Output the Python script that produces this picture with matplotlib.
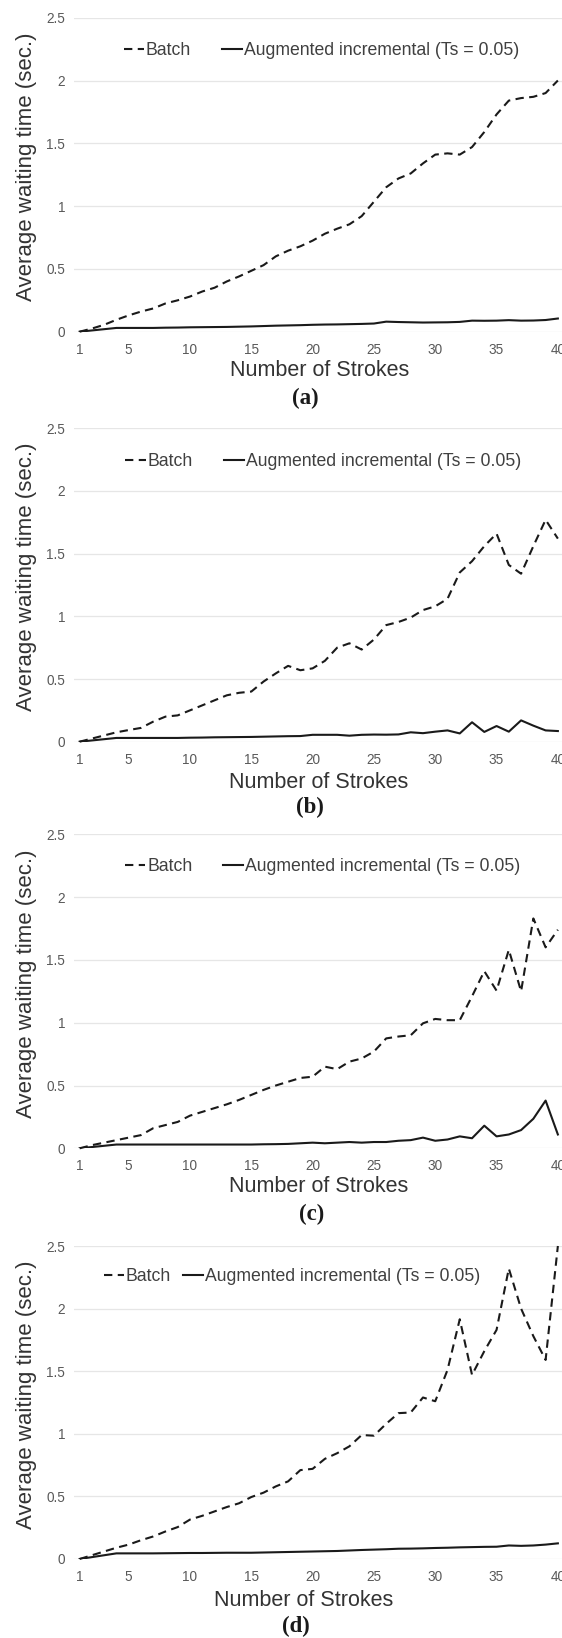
import matplotlib
matplotlib.use("Agg")
import matplotlib.pyplot as plt

plt.rcParams['font.family'] = ['Liberation Sans', 'DejaVu Sans']

strokes = list(range(1, 41))
xtick_vals = [1, 5, 10, 15, 20, 25, 30, 35, 40]
ytick_vals = [0, 0.5, 1, 1.5, 2, 2.5]
ytick_labels = ['0', '0.5', '1', '1.5', '2', '2.5']

batch_a = [0, 0.025, 0.055, 0.095, 0.13, 0.16, 0.185, 0.225, 0.25, 0.28,
           0.32, 0.35, 0.4, 0.44, 0.485, 0.53, 0.6, 0.645, 0.68, 0.725,
           0.78, 0.82, 0.855, 0.92, 1.035, 1.15, 1.22, 1.26, 1.34, 1.41,
           1.42, 1.41, 1.47, 1.59, 1.73, 1.84, 1.86, 1.87, 1.9, 2.0]
inc_a = [0, 0.01, 0.02, 0.03, 0.03, 0.03, 0.03, 0.032, 0.033, 0.035,
         0.036, 0.037, 0.038, 0.04, 0.042, 0.045, 0.048, 0.05, 0.052, 0.055,
         0.057, 0.058, 0.06, 0.062, 0.065, 0.08, 0.077, 0.075, 0.073, 0.074,
         0.075, 0.078, 0.088, 0.087, 0.088, 0.092, 0.088, 0.089, 0.093, 0.105]

batch_b = [0, 0.025, 0.05, 0.075, 0.093, 0.11, 0.16, 0.2, 0.21, 0.25,
           0.29, 0.33, 0.37, 0.39, 0.4, 0.48, 0.545, 0.605, 0.57, 0.585,
           0.645, 0.75, 0.785, 0.735, 0.815, 0.93, 0.955, 0.99, 1.05, 1.08,
           1.14, 1.35, 1.44, 1.56, 1.66, 1.41, 1.34, 1.56, 1.77, 1.62]
inc_b = [0, 0.01, 0.02, 0.03, 0.03, 0.03, 0.03, 0.03, 0.03, 0.032,
         0.033, 0.035, 0.036, 0.037, 0.038, 0.04, 0.042, 0.044, 0.045, 0.055,
         0.055, 0.055, 0.048, 0.055, 0.057, 0.056, 0.058, 0.075, 0.068, 0.08,
         0.09, 0.066, 0.155, 0.078, 0.125, 0.08, 0.17, 0.128, 0.09, 0.085]

batch_c = [0, 0.025, 0.045, 0.065, 0.085, 0.105, 0.16, 0.185, 0.21, 0.26,
           0.29, 0.32, 0.35, 0.385, 0.425, 0.465, 0.5, 0.53, 0.56, 0.57,
           0.65, 0.63, 0.69, 0.715, 0.77, 0.875, 0.89, 0.9, 0.995, 1.03,
           1.02, 1.02, 1.21, 1.41, 1.255, 1.58, 1.25, 1.83, 1.6, 1.74]
inc_c = [0, 0.01, 0.02, 0.03, 0.03, 0.03, 0.03, 0.03, 0.03, 0.03,
         0.03, 0.03, 0.03, 0.03, 0.03, 0.032, 0.033, 0.035, 0.04, 0.045,
         0.04, 0.045, 0.05, 0.045, 0.05, 0.05, 0.06, 0.065, 0.085, 0.06,
         0.07, 0.095, 0.08, 0.18, 0.095, 0.11, 0.145, 0.235, 0.38, 0.11]

batch_d = [0, 0.03, 0.06, 0.09, 0.115, 0.15, 0.18, 0.22, 0.255, 0.315,
           0.345, 0.38, 0.415, 0.445, 0.495, 0.53, 0.58, 0.62, 0.71, 0.72,
           0.8, 0.845, 0.9, 0.99, 0.985, 1.08, 1.165, 1.17, 1.29, 1.26,
           1.51, 1.915, 1.47, 1.66, 1.83, 2.32, 2.0, 1.78, 1.59, 2.5]
inc_d = [0, 0.015, 0.03, 0.045, 0.045, 0.045, 0.045, 0.046, 0.047, 0.048,
         0.048, 0.049, 0.05, 0.05, 0.05, 0.052, 0.054, 0.056, 0.058, 0.06,
         0.062, 0.064, 0.068, 0.072, 0.075, 0.078, 0.082, 0.083, 0.085, 0.088,
         0.09, 0.093, 0.095, 0.097, 0.098, 0.108, 0.105, 0.108, 0.115, 0.125]

panel_names = ['(a)', '(b)', '(c)', '(d)']
batch_series = [batch_a, batch_b, batch_c, batch_d]
inc_series = [inc_a, inc_b, inc_c, inc_d]

W, H = 562, 1638
# pixel layout: (top of 2.5 line, zero line, legend x, legend y, colspacing, xlabel x, xlabel y, tag x, tag y)
layout = [
    (17.7, 331.7, 0.102, 0.895, 1.75, 320, 371, 305, 398),
    (428.3, 741.7, 0.106, 0.893, 1.75, 319, 782, 310, 807),
    (834.3, 1148.3, 0.105, 0.897, 1.75, 319, 1187, 312, 1214),
    (1246.0, 1559.0, 0.062, 0.902, 0.65, 304, 1600, 296, 1626),
]

fig = plt.figure(figsize=(W / 100, H / 100), dpi=100)
left_px, right_px = 73.5, 564.0

for k in range(4):
    top, zero, lx, ly, colsp, tx, ty, px, py = layout[k]
    ax = fig.add_axes([left_px / W, (H - zero) / H, (right_px - left_px) / W, (zero - top) / H])
    ax.plot(strokes, batch_series[k], color='#1a1a1a', lw=1.5,
            dashes=(4, 2.6), label='Batch', clip_on=False)
    ax.plot(strokes, inc_series[k], color='#1a1a1a', lw=1.5,
            label='Augmented incremental (Ts = 0.05)')
    ax.set_xlim(0.5, 40.5)
    ax.set_ylim(0, 2.5)
    ax.set_xticks(xtick_vals)
    ax.set_yticks(ytick_vals)
    ax.set_yticklabels(ytick_labels)
    ax.tick_params(length=0, labelsize=9.8, colors='#595959', pad=6)
    ax.tick_params(axis='x', pad=8)
    ax.grid(axis='y', color='#e6e6e6', lw=0.9)
    ax.set_axisbelow(True)
    for s in ax.spines.values():
        s.set_visible(False)
    ax.set_ylabel('Average waiting time (sec.)', fontsize=16, color='#333333')
    ax.yaxis.set_label_coords(-0.075, 0.525)
    leg = ax.legend(loc='center left', bbox_to_anchor=(lx, ly), ncol=2,
                    frameon=False, fontsize=12.7, handlelength=1.15,
                    handletextpad=0.1, columnspacing=colsp, borderpad=0,
                    borderaxespad=0)
    for t in leg.get_texts():
        t.set_color('#404040')
    fig.text(tx / W, 1 - ty / H, 'Number of Strokes', fontsize=15.5,
             color='#333333', ha='center', va='center')
    fig.text(px / W, 1 - py / H, panel_names[k], fontsize=16.5, fontweight='bold',
             family='Liberation Serif', color='#1a1a1a', ha='center', va='center')

fig.savefig('out.png', dpi=100)
